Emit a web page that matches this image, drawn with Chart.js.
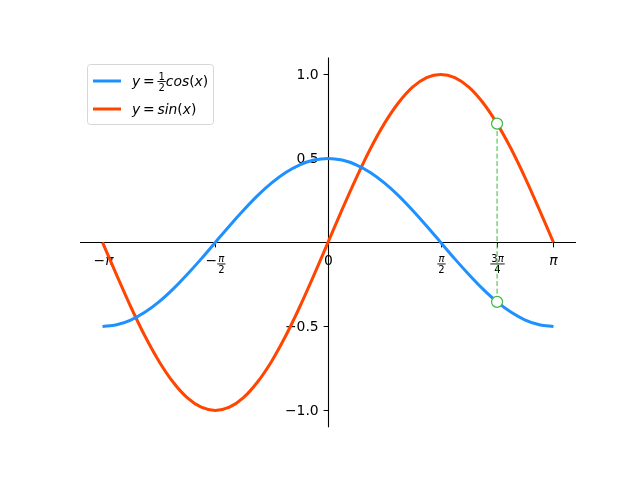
<!DOCTYPE html>
<html><head><meta charset="utf-8">
<script src="https://cdn.jsdelivr.net/npm/chart.js@4/dist/chart.umd.min.js"></script>
<style>html,body{margin:0;padding:0;background:#fff}canvas{display:block}</style>
</head><body>
<div style="width:640px;height:480px"><canvas id="c" width="640" height="480"></canvas></div>
<script>
// ---- data ----
const xValues = [-3.142, -2.945, -2.749, -2.553, -2.356, -2.160, -1.963, -1.767, -1.571, -1.374, -1.178, -0.982, -0.785, -0.589, -0.393, -0.196, 0,
                 0.196, 0.393, 0.589, 0.785, 0.982, 1.178, 1.374, 1.571, 1.767, 1.963, 2.160, 2.356, 2.553, 2.749, 2.945, 3.142];
const cosHalfValues = [-0.5, -0.490, -0.462, -0.416, -0.354, -0.278, -0.191, -0.098, 0, 0.098, 0.191, 0.278, 0.354, 0.416, 0.462, 0.490, 0.5,
                       0.490, 0.462, 0.416, 0.354, 0.278, 0.191, 0.098, 0, -0.098, -0.191, -0.278, -0.354, -0.416, -0.462, -0.490, -0.5];
const sinValues = [0, -0.195, -0.383, -0.556, -0.707, -0.831, -0.924, -0.981, -1, -0.981, -0.924, -0.831, -0.707, -0.556, -0.383, -0.195, 0,
                   0.195, 0.383, 0.556, 0.707, 0.831, 0.924, 0.981, 1, 0.981, 0.924, 0.831, 0.707, 0.556, 0.383, 0.195, 0];
const markX = [2.356, 2.356];
const markY = [0.707, -0.354];
const xTickValues = [-3.142, -1.571, 0, 1.571, 2.356, 3.142];
const xTickLabels = ['−π', '−π/2', '0', 'π/2', '3π/4', 'π'];
const yTickValues = [-1, -0.5, 0.5, 1];
const yTickLabels = ['−1.0', '−0.5', '0.5', '1.0'];
const seriesNames = ['y = 1/2cos(x)', 'y = sin(x)'];
const seriesColors = ['#1E90FF', '#FF4500'];
const markColor = '#3CB83C';

// ---- tiny math text renderer ----
const FS = 13.9;
function mathRuns(str){
  const out=[]; const re=/([0-9π]+)\/([0-9π]+)/g; let last=0,m;
  while((m=re.exec(str))){ if(m.index>last) out.push({type:'txt',s:str.slice(last,m.index)}); out.push({type:'frac',n:m[1],d:m[2]}); last=re.lastIndex; }
  if(last<str.length) out.push({type:'txt',s:str.slice(last)});
  return out;
}
function charFont(ch,size){ return (/[a-zπ]/.test(ch)?'italic ':'')+size+'px "DejaVu Sans"'; }
function strWidth(ctx,s,size){ let w=0; for(const ch of s){ if(ch===' '){w+=size*0.2;continue;} ctx.font=charFont(ch,size); w+=ctx.measureText(ch).width; } return w; }
function drawStr(ctx,s,x,y,size){ for(const ch of s){ if(ch===' '){x+=size*0.2;continue;} ctx.font=charFont(ch,size); ctx.fillText(ch,x,y); x+=ctx.measureText(ch).width; } return x; }
const FR = 10;
function runsWidth(ctx,runs,size){ let w=0; for(const r of runs){ if(r.type==='txt') w+=strWidth(ctx,r.s,size); else w+=Math.max(strWidth(ctx,r.n,FR),strWidth(ctx,r.d,FR))+2; } return w; }
function drawRuns(ctx,runs,x,baseline,size,barOff){
  ctx.textBaseline='alphabetic'; ctx.textAlign='left'; ctx.fillStyle='#000';
  for(const r of runs){
    if(r.type==='txt'){ x=drawStr(ctx,r.s,x,baseline,size); }
    else {
      const wn=strWidth(ctx,r.n,FR), wd=strWidth(ctx,r.d,FR); const w=Math.max(wn,wd)+2; const barY=baseline-barOff;
      ctx.fillRect(x, barY-0.5, w, 0.9);
      drawStr(ctx,r.n,x+(w-wn)/2,barY-2,FR);
      drawStr(ctx,r.d,x+(w-wd)/2,barY+9,FR);
      x+=w;
    }
  }
  return x;
}

const axesPlugin = {
  id:'mplAxes',
  beforeDatasetsDraw(chart){
    const ctx=chart.ctx, a=chart.chartArea, xs=chart.scales.x, ys=chart.scales.y;
    const x0=Math.round(xs.getPixelForValue(0))+0.5, y0=Math.round(ys.getPixelForValue(0))+0.5;
    ctx.save();
    ctx.strokeStyle='#000'; ctx.lineWidth=1.1;
    ctx.beginPath(); ctx.moveTo(a.left,y0); ctx.lineTo(a.right,y0); ctx.stroke();
    ctx.beginPath(); ctx.moveTo(x0,a.top); ctx.lineTo(x0,a.bottom); ctx.stroke();
    ctx.lineWidth=1;
    xTickValues.forEach((v,i)=>{
      const px=Math.round(xs.getPixelForValue(v))+0.5;
      ctx.beginPath(); ctx.moveTo(px,y0); ctx.lineTo(px,y0+4.9); ctx.stroke();
      const runs=mathRuns(xTickLabels[i]);
      const w=runsWidth(ctx,runs,FS);
      drawRuns(ctx,runs,px-w/2,y0+22,FS,0.5);
    });
    yTickValues.forEach((v,i)=>{
      const py=Math.round(ys.getPixelForValue(v))+0.5;
      ctx.beginPath(); ctx.moveTo(x0,py); ctx.lineTo(x0-4.9,py); ctx.stroke();
      ctx.font=FS+'px "DejaVu Sans"'; ctx.fillStyle='#000'; ctx.textAlign='right'; ctx.textBaseline='middle';
      ctx.fillText(yTickLabels[i], x0-9.8, py+0.5);
    });
    ctx.restore();
  },
  afterDraw(chart){
    const ctx=chart.ctx;
    ctx.save();
    // legend box
    const bx=87.5, by=64.5, bw=126, bh=60, r=3;
    ctx.beginPath();
    ctx.moveTo(bx+r,by); ctx.lineTo(bx+bw-r,by); ctx.quadraticCurveTo(bx+bw,by,bx+bw,by+r);
    ctx.lineTo(bx+bw,by+bh-r); ctx.quadraticCurveTo(bx+bw,by+bh,bx+bw-r,by+bh);
    ctx.lineTo(bx+r,by+bh); ctx.quadraticCurveTo(bx,by+bh,bx,by+bh-r);
    ctx.lineTo(bx,by+r); ctx.quadraticCurveTo(bx,by,bx+r,by); ctx.closePath();
    ctx.fillStyle='rgba(255,255,255,0.8)'; ctx.fill();
    ctx.strokeStyle='#d6d6d6'; ctx.lineWidth=1; ctx.stroke();
    seriesNames.forEach((name,i)=>{
      const cy=81+i*28;
      ctx.strokeStyle=seriesColors[i]; ctx.lineWidth=3; ctx.lineCap='butt';
      ctx.beginPath(); ctx.moveTo(93,cy); ctx.lineTo(121,cy); ctx.stroke();
      drawRuns(ctx,mathRuns(name),132,cy+4.5,FS,4);
    });
    ctx.restore();
  }
};

const pts = (xs,ys)=>xs.map((x,i)=>({x, y: ys[i]}));
new Chart(document.getElementById('c'), {
  type:'scatter',
  data:{ datasets:[
    { label:seriesNames[0], data:pts(xValues,cosHalfValues), showLine:true, borderColor:seriesColors[0], borderWidth:3, pointRadius:0, cubicInterpolationMode:'monotone', order:2 },
    { label:seriesNames[1], data:pts(xValues,sinValues), showLine:true, borderColor:seriesColors[1], borderWidth:3, pointRadius:0, cubicInterpolationMode:'monotone', order:2 },
    { label:'guide', data:pts(markX,markY), showLine:true, borderColor:markColor, borderWidth:1, borderDash:[5,2.5], pointRadius:0, order:1 },
    { label:'marks', data:pts(markX,markY), showLine:false, pointRadius:5.5, pointBackgroundColor:'#fff', pointBorderColor:markColor, pointBorderWidth:1.2, order:0 }
  ]},
  options:{
    responsive:false, animation:false,
    layout:{ padding:{ left:80, right:64, top:57.6, bottom:52.8 } },
    scales:{
      x:{ type:'linear', min:-3.456, max:3.456, display:false },
      y:{ type:'linear', min:-1.1, max:1.1, display:false }
    },
    plugins:{ legend:{display:false}, tooltip:{enabled:false} }
  },
  plugins:[axesPlugin]
});
</script>
</body></html>
